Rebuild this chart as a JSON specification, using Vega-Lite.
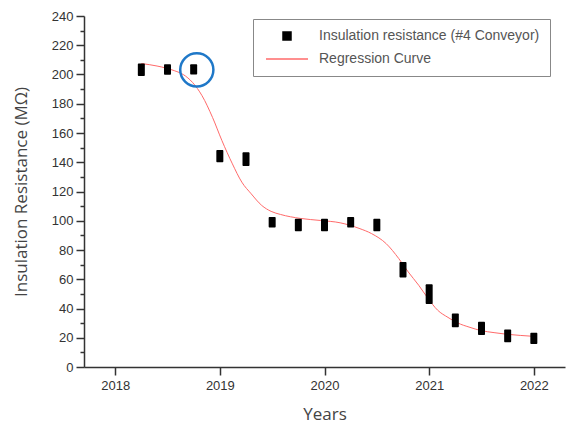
{
  "$schema": "https://vega.github.io/schema/vega-lite/v6.json",
  "width": 481,
  "height": 351,
  "autosize": "none",
  "padding": {"left": 84, "top": 16, "right": 10, "bottom": 58},
  "background": "white",
  "config": {
    "view": {"stroke": null},
    "axis": {
      "grid": false,
      "domainColor": "#333333",
      "domainWidth": 1.5,
      "tickColor": "#333333",
      "tickWidth": 1.5,
      "labelFont": "Liberation Sans",
      "labelFontSize": 13,
      "labelColor": "#333333",
      "labelOverlap": false,
      "titleFont": "Open Sans",
      "titleFontSize": 17,
      "titleFontWeight": "normal",
      "titleColor": "#444444"
    }
  },
  "datasets": {
    "measured": [
      {"year": 2018.25, "lo": 199, "hi": 207.5},
      {"year": 2018.5, "lo": 199.8, "hi": 207},
      {"year": 2018.75, "lo": 200, "hi": 207},
      {"year": 2019.0, "lo": 140, "hi": 148.4},
      {"year": 2019.25, "lo": 137.5, "hi": 146.8},
      {"year": 2019.5, "lo": 95.3, "hi": 102.5},
      {"year": 2019.75, "lo": 92.9, "hi": 101.4},
      {"year": 2020.0, "lo": 92.9, "hi": 101.4},
      {"year": 2020.25, "lo": 95.3, "hi": 102.5},
      {"year": 2020.5, "lo": 92.9, "hi": 101.4},
      {"year": 2020.75, "lo": 61.2, "hi": 71.8},
      {"year": 2021.0, "lo": 43, "hi": 56.6},
      {"year": 2021.25, "lo": 27.1, "hi": 36.6},
      {"year": 2021.5, "lo": 21.8, "hi": 30.9},
      {"year": 2021.75, "lo": 17, "hi": 25.7},
      {"year": 2022.0, "lo": 15.7, "hi": 23.4}
    ],
    "fit": [
      {"year": 2018.25, "value": 207.5},
      {"year": 2018.4, "value": 205.8},
      {"year": 2018.49, "value": 204.3},
      {"year": 2018.57, "value": 202.5},
      {"year": 2018.65, "value": 200},
      {"year": 2018.74, "value": 194.5},
      {"year": 2018.83, "value": 185.5},
      {"year": 2018.93, "value": 170.7},
      {"year": 2019.02, "value": 154.8},
      {"year": 2019.12, "value": 138.9},
      {"year": 2019.21, "value": 126.4},
      {"year": 2019.3, "value": 118.4},
      {"year": 2019.4, "value": 110.5},
      {"year": 2019.49, "value": 106.4},
      {"year": 2019.58, "value": 104.3},
      {"year": 2019.77, "value": 101.6},
      {"year": 2019.96, "value": 100.2},
      {"year": 2020.15, "value": 98.6},
      {"year": 2020.33, "value": 94.8},
      {"year": 2020.45, "value": 91.2},
      {"year": 2020.59, "value": 84.3},
      {"year": 2020.71, "value": 74.1},
      {"year": 2020.8, "value": 65},
      {"year": 2020.9, "value": 55.9},
      {"year": 2020.99, "value": 46.8},
      {"year": 2021.08, "value": 38.9},
      {"year": 2021.18, "value": 33.9},
      {"year": 2021.27, "value": 30.2},
      {"year": 2021.39, "value": 27.1},
      {"year": 2021.49, "value": 25},
      {"year": 2021.62, "value": 23.5},
      {"year": 2021.74, "value": 22.4},
      {"year": 2021.87, "value": 21.6},
      {"year": 2021.99, "value": 21}
    ],
    "highlight": [
      {"year": 2018.78, "value": 203.2}
    ]
  },
  "layer": [
    {
      "data": {"name": "fit"},
      "mark": {"type": "line", "strokeWidth": 1, "interpolate": "monotone"},
      "encoding": {
        "x": {
          "field": "year",
          "type": "quantitative",
          "scale": {"domain": [2017.75, 2022.25], "nice": false, "zero": false},
          "axis": {
            "title": "Years",
            "values": [2018, 2018.5, 2019, 2019.5, 2020, 2020.5, 2021, 2021.5, 2022],
            "tickCount": 20,
            "format": "d",
            "labelExpr": "datum.value % 1 === 0 ? datum.label : ''",
            "labelOverlap": false,
            "tickSize": {"condition": {"test": "datum.value % 1 === 0", "value": 8}, "value": 4},
            "labelPadding": 4,
            "titlePadding": 14
          }
        },
        "y": {
          "field": "value",
          "type": "quantitative",
          "scale": {"domain": [0, 240], "nice": false},
          "axis": {
            "title": "Insulation Resistance (MΩ)",
            "values": [0, 10, 20, 30, 40, 50, 60, 70, 80, 90, 100, 110, 120, 130, 140, 150, 160, 170, 180, 190, 200, 210, 220, 230, 240],
            "tickCount": 30,
            "labelExpr": "datum.value % 20 === 0 ? datum.label : ''",
            "labelOverlap": false,
            "tickSize": {"condition": {"test": "datum.value % 20 === 0", "value": 8}, "value": 4},
            "labelPadding": 3,
            "titlePadding": 21
          }
        },
        "color": {
          "datum": "Regression Curve",
          "type": "nominal",
          "scale": {
            "domain": ["Insulation resistance (#4 Conveyor)", "Regression Curve"],
            "range": ["#000000", "#ff6a6a"]
          },
          "legend": {
            "title": null,
            "orient": "none",
            "legendX": 169,
            "legendY": 3,
            "strokeColor": "#888888",
            "fillColor": "white",
            "padding": 10,
            "rowPadding": 9,
            "symbolSize": 100,
            "symbolOffset": 17,
            "labelOffset": 25,
            "labelFont": "Liberation Sans",
            "labelFontSize": 14,
            "labelColor": "#555555",
            "labelLimit": 400,
            "labelExpr": "datum.label + '         '",
            "encode": {
              "symbols": {
                "update": {
                  "shape": {"signal": "datum.value === 'Regression Curve' ? 'stroke' : 'square'"},
                  "size": {"signal": "datum.value === 'Regression Curve' ? 1764 : 64"},
                  "fill": {"signal": "datum.value === 'Regression Curve' ? 'transparent' : '#000000'"},
                  "stroke": {"signal": "datum.value === 'Regression Curve' ? '#f7a472' : 'transparent'"},
                  "strokeWidth": {"signal": "1.5"}
                }
              }
            }
          }
        }
      }
    },
    {
      "data": {"name": "measured"},
      "mark": {"type": "bar", "size": 7, "cornerRadius": 1},
      "encoding": {
        "x": {"field": "year", "type": "quantitative"},
        "y": {"field": "lo", "type": "quantitative"},
        "y2": {"field": "hi"},
        "color": {"datum": "Insulation resistance (#4 Conveyor)", "type": "nominal"}
      }
    },
    {
      "data": {"name": "highlight"},
      "mark": {"type": "point", "shape": "circle", "filled": false, "size": 1100, "stroke": "#1f78c8", "strokeWidth": 2.5, "opacity": 1},
      "encoding": {
        "x": {"field": "year", "type": "quantitative"},
        "y": {"field": "value", "type": "quantitative"}
      }
    }
  ]
}
